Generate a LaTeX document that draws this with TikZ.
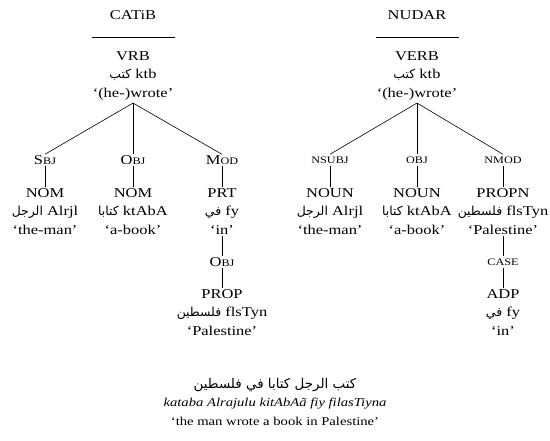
\documentclass[tikz,border=0pt]{standalone}
\usepackage{fontspec}
\setmainfont{Liberation Serif}[FakeStretch=1.22]
\newfontfamily\arabicfont[Script=Arabic,Scale=0.92]{DejaVu Sans}
\TeXXeTstate=1
\usetikzlibrary{positioning}
\newcommand{\arb}[1]{{\arabicfont\beginR #1\endR}}
\newcommand{\fsc}[2]{#1{\fontsize{10}{11}\selectfont #2}}
\newcommand{\udsc}[1]{{\fontsize{10}{11}\selectfont #1}}

\begin{document}
\begin{tikzpicture}[
  x=1pt, y=-1pt,
  title/.style={inner sep=1pt, font=\fontsize{13.5}{15}\selectfont},
  word/.style={align=center, inner sep=1pt, font=\fontsize{13.5}{18.5}\selectfont},
  rel/.style={inner sep=1pt, minimum height=11pt, font=\fontsize{13.5}{15}\selectfont},
  sent/.style={inner sep=1pt, align=center},
  dep/.style={line width=0.6pt}
]
\useasboundingbox (0,0) rectangle (550,441);
% CATiB tree
\node[title] (catib) at (133,15) {CATiB};
\coordinate (catibl) at (92,37);
\coordinate (catibr) at (175,37);
\draw[line width=0.5pt] (catibl) -- (catibr);
\node[word, inner sep=2.5pt] (cvrb) at (133,76) {VRB\\ \arb{كتب} ktb\\ `(he-)wrote'};
\node[rel] (csbj) at (45,160) {\fsc{S}{BJ}};
\node[rel] (cobj) at (133,160) {\fsc{O}{BJ}};
\node[rel] (cmod) at (222,160) {\fsc{M}{OD}};
\node[word] (cnom1) at (45,211.5) {NOM\\ \arb{الرجل} Alrjl\\ `the-man'};
\node[word] (cnom2) at (133,211.5) {NOM\\ \arb{كتابا} ktAbA\\ `a-book'};
\node[word] (cprt) at (222,211.5) {PRT\\ \arb{في} fy\\ `in'};
\node[rel] (cobj2) at (222,262) {\fsc{O}{BJ}};
\node[word] (cprop) at (222,312.5) {PROP\\ \arb{فلسطين} flsTyn\\ `Palestine'};
\draw[dep] (cvrb.south) -- (csbj.north);
\draw[dep] (cvrb.south) -- (cobj.north);
\draw[dep] (cvrb.south) -- (cmod.north);
\draw[dep] (csbj) -- (cnom1);
\draw[dep] (cobj) -- (cnom2);
\draw[dep] (cmod) -- (cprt);
\draw[dep] (cprt) -- (cobj2);
\draw[dep] (cobj2) -- (cprop);
% NUDAR tree
\node[title] (nudar) at (417,15) {NUDAR};
\coordinate (nudarl) at (376,37);
\coordinate (nudarr) at (459,37);
\draw[line width=0.5pt] (nudarl) -- (nudarr);
\node[word, inner sep=2.5pt] (nverb) at (417,76) {VERB\\ \arb{كتب} ktb\\ `(he-)wrote'};
\node[rel] (nnsubj) at (330,160) {\udsc{NSUBJ}};
\node[rel] (nobj) at (417,160) {\udsc{OBJ}};
\node[rel] (nnmod) at (503,160) {\udsc{NMOD}};
\node[word] (nnoun1) at (330,211.5) {NOUN\\ \arb{الرجل} Alrjl\\ `the-man'};
\node[word] (nnoun2) at (417,211.5) {NOUN\\ \arb{كتابا} ktAbA\\ `a-book'};
\node[word] (npropn) at (503,211.5) {PROPN\\ \arb{فلسطين} flsTyn\\ `Palestine'};
\node[rel] (ncase) at (503,262) {\udsc{CASE}};
\node[word] (nadp) at (503,312.5) {ADP\\ \arb{في} fy\\ `in'};
\draw[dep] (nverb.south) -- (nnsubj.north);
\draw[dep] (nverb.south) -- (nobj.north);
\draw[dep] (nverb.south) -- (nnmod.north);
\draw[dep] (nnsubj) -- (nnoun1);
\draw[dep] (nobj) -- (nnoun2);
\draw[dep] (nnmod) -- (npropn);
\draw[dep] (npropn) -- (ncase);
\draw[dep] (ncase) -- (nadp);
% sentence
\node[sent, font=\fontsize{14.6}{17}\selectfont] (sentar) at (275,385) {\arb{كتب الرجل كتابا في فلسطين}};
\node[sent, font=\fontsize{12}{14}\selectfont\itshape] (sentlat) at (275,404) {kataba Alrajulu kitAbAã fiy filasTiyna};
\node[sent, font=\fontsize{12}{14}\selectfont] (sentgl) at (275,421) {`the man wrote a book in Palestine'};
\end{tikzpicture}
\end{document}
